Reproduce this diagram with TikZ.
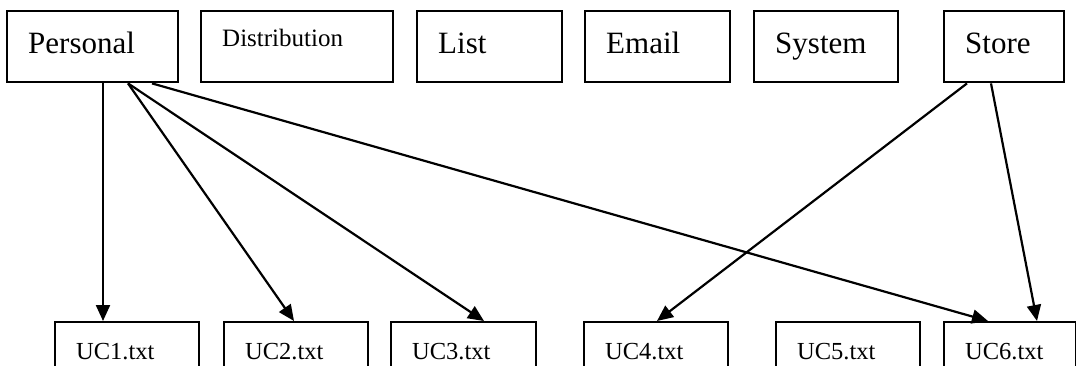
\documentclass[tikz,border=0pt]{standalone}
\usepackage{fontspec}
\setmainfont{Liberation Serif}
\usetikzlibrary{arrows.meta}

\begin{document}
\begin{tikzpicture}[
      box/.style={draw, line width=2.4pt, anchor=north west,
        inner xsep=21pt, inner ysep=0pt, align=left},
      srcbox/.style={box, text width=#1, text height=42pt, text depth=29pt,
        font=\fontsize{31}{36}\selectfont},
      ucbox/.style={box, text width=#1, text height=37pt, text depth=30pt,
        font=\fontsize{24.5}{28}\selectfont},
      dep/.style={line width=2.2pt, -{Triangle[length=16pt, width=14pt]}},
      x=1pt,
      y=-1pt]
    \useasboundingbox (0,0) rectangle (1076,366);

    \node[srcbox=129pt] (personal) at (  6, 10) {Personal};
    \node[srcbox=150pt, text height=35pt, text depth=36pt,
      font=\fontsize{25}{29}\selectfont] (distribution) at (200, 10) {Distribution};
    \node[srcbox=103pt] (list)   at (416, 10) {List};
    \node[srcbox=103pt] (email)  at (584, 10) {Email};
    \node[srcbox=102pt] (system) at (753, 10) {System};
    \node[srcbox=78pt]  (store)  at (943, 10) {Store};

    \node[ucbox=102pt] (uc1) at ( 54, 321) {UC1.txt};
    \node[ucbox=102pt] (uc2) at (223, 321) {UC2.txt};
    \node[ucbox=103pt] (uc3) at (390, 321) {UC3.txt};
    \node[ucbox=102pt] (uc4) at (583, 321) {UC4.txt};
    \node[ucbox=102pt] (uc5) at (775, 321) {UC5.txt};
    \node[ucbox=90pt]  (uc6) at (943, 321) {UC6.txt};

    \draw[dep] ([xshift=97pt]personal.south west)  -- ([xshift=49pt]uc1.north west);
    \draw[dep] ([xshift=122pt]personal.south west) -- ([xshift=71pt]uc2.north west);
    \draw[dep] ([xshift=122pt]personal.south west) -- ([xshift=94pt]uc3.north west);
    \draw[dep] ([xshift=146pt]personal.south west) -- ([xshift=45pt]uc6.north west);
    \draw[dep] ([xshift=24pt]store.south west)     -- ([xshift=74pt]uc4.north west);
    \draw[dep] ([xshift=48pt]store.south west)     -- ([xshift=94pt]uc6.north west);

  \end{tikzpicture}
\end{document}
